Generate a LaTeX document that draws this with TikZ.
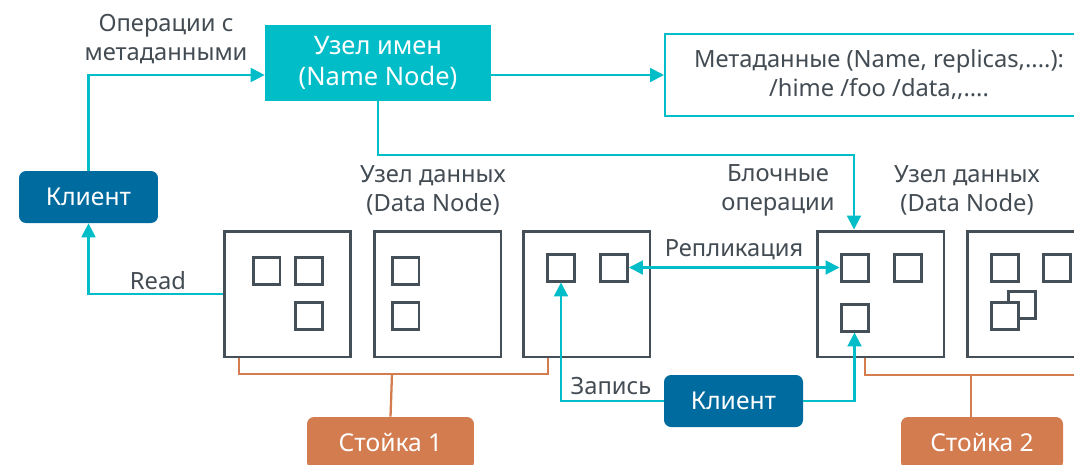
\documentclass[tikz,border=0pt]{standalone}
\usepackage{fontspec}
\setmainfont{Noto Sans}
\usetikzlibrary{arrows.meta}
\definecolor{cteal}{HTML}{00BDC7}
\definecolor{cblue}{HTML}{006B9F}
\definecolor{corange}{HTML}{D27C4F}
\definecolor{cgray}{HTML}{454F58}
\definecolor{ctext}{HTML}{434B53}
\tikzset{
  tl/.style={draw=cteal, line width=1.2pt},
  arr/.style={-{Triangle[length=0.28cm,width=0.28cm]}},
  darr/.style={{Triangle[length=0.28cm,width=0.28cm]}-{Triangle[length=0.28cm,width=0.28cm]}},
  orl/.style={draw=corange, line width=1.3pt},
  dnbox/.style={draw=cgray, line width=1.7pt, fill=white, inner sep=0pt, minimum width=2.54cm, minimum height=2.52cm},
  blk/.style={draw=cgray, line width=1.7pt, fill=white, inner sep=0pt, minimum size=0.54cm},
  lbl/.style={text=ctext, align=center, inner sep=0pt, font=\fontsize{13.5}{16.5}\selectfont},
  wtxt/.style={text=white, align=center, inner sep=0pt, font=\fontsize{14}{17.5}\selectfont},
  client/.style={wtxt, fill=cblue, rounded corners=0.14cm, minimum width=2.78cm, minimum height=1.04cm},
  rack/.style={wtxt, fill=corange, rounded corners=0.14cm, minimum height=1.04cm},
}
\begin{document}
\begin{tikzpicture}[x=0.02cm,y=-0.02cm]
\clip (0,0) rectangle (1074,464);
\fill[white] (0,0) rectangle (1074,464);
% main boxes
\node[wtxt, fill=cteal, minimum width=4.52cm, minimum height=1.52cm, font=\fontsize{14.5}{17.6}\selectfont] (nn) at (378,63) {Узел имен\\(Name Node)};
\node[lbl, draw=cteal, line width=1.2pt, fill=white, minimum width=8.56cm, minimum height=1.64cm] (md) at (879,75) {Метаданные (Name, replicas,....):\\/hime /foo /data,{},....};
\node[client] (cl1) at (88.5,197) {Клиент};
\node[client] (cl2) at (733.5,401) {Клиент};
\node[rack, minimum width=3.34cm] (rk1) at (390.5,443) {Стойка 1};
\node[rack, minimum width=3.24cm] (rk2) at (982,443) {Стойка 2};
% data nodes
\node[dnbox] (dn1) at (287.5,294) {};
\node[dnbox] (dn2) at (437.5,294) {};
\node[dnbox] (dn3) at (586.5,294) {};
\node[dnbox] (dn4) at (880.5,294) {};
\node[dnbox] (dn5) at (1030.5,294) {};
% blocks
\node[blk] (d1a) at (266.5,271) {};
\node[blk] (d1b) at (309,271) {};
\node[blk] (d1c) at (309,315.5) {};
\node[blk] (d2a) at (405.5,271) {};
\node[blk] (d2b) at (405.5,315.5) {};
\node[blk] (d3a) at (561,267.5) {};
\node[blk] (d3b) at (614,267.5) {};
\node[blk] (d4a) at (854.5,267.5) {};
\node[blk] (d4b) at (907.5,267.5) {};
\node[blk] (d4c) at (854.5,317.5) {};
\node[blk] (d5a) at (1004.5,268) {};
\node[blk] (d5b) at (1057,268) {};
\node[blk] (d5c) at (1022,305) {};
\node[blk] (d5d) at (1004.5,315.5) {};
% labels
\node[lbl] (l1) at (166,39) {Операции с\\метаданными};
\node[lbl] (l2) at (433,190) {Узел данных\\(Data Node)};
\node[lbl] (l3) at (967,190) {Узел данных\\(Data Node)};
\node[lbl] (l4) at (778,190) {Блочные\\операции};
\node[lbl] (l5) at (734,250) {Репликация};
\node[lbl] (l6) at (158,281) {Read};
\node[lbl] (l7) at (611,386) {Запись};
% connectors
\coordinate (bend) at (854,155);
\coordinate (r1a) at (239,374);
\coordinate (r1b) at (548,374);
\coordinate (r1m) at (392,374);
\coordinate (r2a) at (865,375);
\coordinate (r2b) at (1090,375);
\coordinate (r2m) at (971,375);
\draw[tl,arr] (cl1.north) |- (nn.west |- md.west);
\draw[tl,arr] (nn.east |- md.west) -- (md.west);
\draw[tl,arr] (nn.south) |- (bend) -- (bend |- dn4.north);
\draw[tl,arr] (dn1.west) -| (cl1.south);
\draw[tl,darr] (d3b.east) -- (d4a.west);
\draw[tl,arr] (cl2.west) -| (d3a.south);
\draw[tl,arr] (cl2.east) -| (d4c.south);
\draw[orl] (r1a |- dn1.south) -- (r1a) -- (r1b) -- (r1b |- dn3.south);
\draw[orl] (r1m) -- (rk1.north);
\draw[orl] (r2a |- dn4.south) -- (r2a) -- (r2b);
\draw[orl] (r2m) -- (r2m |- rk2.north);
\end{tikzpicture}
\end{document}
